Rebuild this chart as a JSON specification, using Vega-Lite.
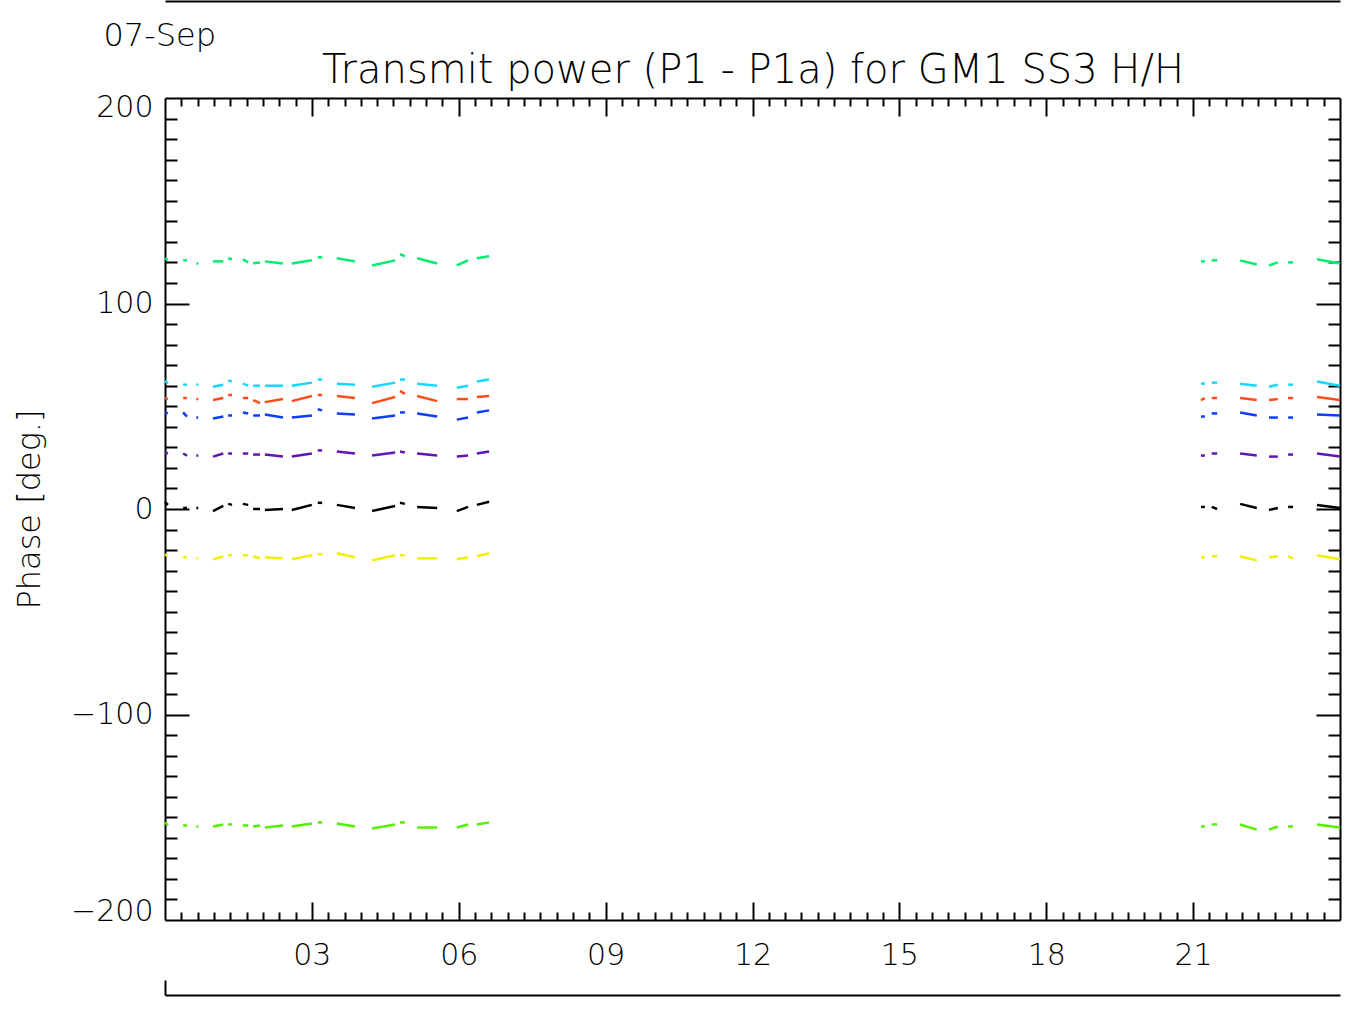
{
  "$schema": "https://vega.github.io/schema/vega-lite/v6.json",
  "width": 1175,
  "height": 822,
  "autosize": {"type": "none"},
  "padding": {"left": 165, "top": 98, "right": 11, "bottom": 92},
  "background": "white",
  "config": {
    "view": {"stroke": null},
    "axis": {
      "domainColor": "black", "domainWidth": 2, "tickColor": "black", "tickWidth": 2,
      "labelColor": "black", "labelFont": "DejaVu Sans", "labelFontSize": 30, "labelFontWeight": 200,
      "titleFont": "DejaVu Sans", "titleColor": "black", "titleFontWeight": 200, "grid": false
    }
  },
  "data": {"values": [
    {"s":"g","t1":0.0,"t2":0.06,"v1":122,"v2":121},{"s":"g","t1":0.37,"t2":0.45,"v1":121,"v2":121},{"s":"g","t1":0.64,"t2":0.68,"v1":119.5,"v2":119.5},{"s":"g","t1":0.98,"t2":1.19,"v1":120.5,"v2":120.5},{"s":"g","t1":1.29,"t2":1.37,"v1":122,"v2":121.5},{"s":"g","t1":1.59,"t2":1.7,"v1":121.5,"v2":120},{"s":"g","t1":1.8,"t2":1.94,"v1":119.5,"v2":120},{"s":"g","t1":2.04,"t2":2.41,"v1":120.5,"v2":119.5},{"s":"g","t1":2.59,"t2":3.0,"v1":119.5,"v2":121},{"s":"g","t1":3.12,"t2":3.21,"v1":122.5,"v2":122.5},{"s":"g","t1":3.51,"t2":3.88,"v1":122,"v2":120.5},{"s":"g","t1":4.23,"t2":4.7,"v1":118.5,"v2":121},{"s":"g","t1":4.8,"t2":4.9,"v1":124,"v2":123},{"s":"g","t1":5.15,"t2":5.56,"v1":122,"v2":119.5},{"s":"g","t1":5.96,"t2":6.19,"v1":118.5,"v2":121},{"s":"g","t1":6.37,"t2":6.62,"v1":122,"v2":123},{"s":"g","t1":21.16,"t2":21.24,"v1":120.5,"v2":120.5},{"s":"g","t1":21.38,"t2":21.49,"v1":121,"v2":121},{"s":"g","t1":21.96,"t2":22.3,"v1":121,"v2":119},{"s":"g","t1":22.55,"t2":22.73,"v1":118.5,"v2":120},{"s":"g","t1":22.94,"t2":23.04,"v1":120,"v2":120},{"s":"g","t1":23.53,"t2":24.0,"v1":121.5,"v2":119.5},
    {"s":"c","t1":0.0,"t2":0.06,"v1":62.5,"v2":61},{"s":"c","t1":0.37,"t2":0.45,"v1":60.5,"v2":60.5},{"s":"c","t1":0.64,"t2":0.68,"v1":60.5,"v2":60.5},{"s":"c","t1":0.98,"t2":1.19,"v1":59.5,"v2":60.5},{"s":"c","t1":1.29,"t2":1.37,"v1":62.5,"v2":62},{"s":"c","t1":1.59,"t2":1.7,"v1":61,"v2":60},{"s":"c","t1":1.8,"t2":1.94,"v1":60,"v2":60},{"s":"c","t1":2.04,"t2":2.41,"v1":60,"v2":60},{"s":"c","t1":2.59,"t2":3.0,"v1":60,"v2":61.5},{"s":"c","t1":3.12,"t2":3.21,"v1":63,"v2":63},{"s":"c","t1":3.51,"t2":3.88,"v1":61,"v2":60.5},{"s":"c","t1":4.23,"t2":4.7,"v1":59.5,"v2":61.5},{"s":"c","t1":4.8,"t2":4.9,"v1":63,"v2":63},{"s":"c","t1":5.15,"t2":5.56,"v1":61,"v2":60},{"s":"c","t1":5.96,"t2":6.19,"v1":59,"v2":60},{"s":"c","t1":6.37,"t2":6.62,"v1":62,"v2":63},{"s":"c","t1":21.16,"t2":21.24,"v1":61,"v2":61},{"s":"c","t1":21.38,"t2":21.49,"v1":61.5,"v2":61.5},{"s":"c","t1":21.96,"t2":22.3,"v1":61,"v2":60},{"s":"c","t1":22.55,"t2":22.73,"v1":59.5,"v2":60.5},{"s":"c","t1":22.94,"t2":23.04,"v1":60.5,"v2":60.5},{"s":"c","t1":23.53,"t2":24.0,"v1":62,"v2":60},
    {"s":"o","t1":0.0,"t2":0.06,"v1":54,"v2":53.5},{"s":"o","t1":0.37,"t2":0.45,"v1":54,"v2":54},{"s":"o","t1":0.64,"t2":0.68,"v1":53.5,"v2":53.5},{"s":"o","t1":0.98,"t2":1.19,"v1":53,"v2":54},{"s":"o","t1":1.29,"t2":1.37,"v1":55.5,"v2":55.5},{"s":"o","t1":1.59,"t2":1.7,"v1":54,"v2":54},{"s":"o","t1":1.8,"t2":1.94,"v1":53,"v2":51.5},{"s":"o","t1":2.04,"t2":2.41,"v1":52,"v2":53.5},{"s":"o","t1":2.59,"t2":3.0,"v1":52.5,"v2":55},{"s":"o","t1":3.12,"t2":3.21,"v1":55.5,"v2":55.5},{"s":"o","t1":3.51,"t2":3.88,"v1":55,"v2":54},{"s":"o","t1":4.23,"t2":4.7,"v1":51.5,"v2":54.5},{"s":"o","t1":4.8,"t2":4.9,"v1":57.5,"v2":56},{"s":"o","t1":5.15,"t2":5.56,"v1":55,"v2":52.5},{"s":"o","t1":5.96,"t2":6.19,"v1":53.5,"v2":53.5},{"s":"o","t1":6.37,"t2":6.62,"v1":54.5,"v2":55},{"s":"o","t1":21.16,"t2":21.24,"v1":53,"v2":54},{"s":"o","t1":21.38,"t2":21.49,"v1":54,"v2":54},{"s":"o","t1":21.96,"t2":22.3,"v1":54,"v2":53},{"s":"o","t1":22.55,"t2":22.73,"v1":53,"v2":53.5},{"s":"o","t1":22.94,"t2":23.04,"v1":54,"v2":54},{"s":"o","t1":23.53,"t2":24.0,"v1":54.5,"v2":53},
    {"s":"b","t1":0.0,"t2":0.06,"v1":47,"v2":46.5},{"s":"b","t1":0.37,"t2":0.45,"v1":47,"v2":45},{"s":"b","t1":0.64,"t2":0.68,"v1":44.5,"v2":44.5},{"s":"b","t1":0.98,"t2":1.19,"v1":44,"v2":45},{"s":"b","t1":1.29,"t2":1.37,"v1":45.5,"v2":45.5},{"s":"b","t1":1.59,"t2":1.7,"v1":47,"v2":46.5},{"s":"b","t1":1.8,"t2":1.94,"v1":45.5,"v2":45.5},{"s":"b","t1":2.04,"t2":2.41,"v1":46,"v2":44.5},{"s":"b","t1":2.59,"t2":3.0,"v1":44.5,"v2":45.5},{"s":"b","t1":3.12,"t2":3.21,"v1":48.5,"v2":48},{"s":"b","t1":3.51,"t2":3.88,"v1":46.5,"v2":46},{"s":"b","t1":4.23,"t2":4.7,"v1":44,"v2":45.5},{"s":"b","t1":4.8,"t2":4.9,"v1":47,"v2":47},{"s":"b","t1":5.15,"t2":5.56,"v1":46.5,"v2":45},{"s":"b","t1":5.96,"t2":6.19,"v1":43.5,"v2":44.5},{"s":"b","t1":6.37,"t2":6.62,"v1":47,"v2":48},{"s":"b","t1":21.16,"t2":21.24,"v1":45,"v2":45},{"s":"b","t1":21.38,"t2":21.49,"v1":46.5,"v2":46.5},{"s":"b","t1":21.96,"t2":22.3,"v1":47,"v2":45.5},{"s":"b","t1":22.55,"t2":22.73,"v1":44.5,"v2":44.5},{"s":"b","t1":22.94,"t2":23.04,"v1":44.5,"v2":44.5},{"s":"b","t1":23.53,"t2":24.0,"v1":46,"v2":45.5},
    {"s":"p","t1":0.0,"t2":0.06,"v1":27.5,"v2":27},{"s":"p","t1":0.37,"t2":0.45,"v1":27,"v2":26},{"s":"p","t1":0.64,"t2":0.68,"v1":26,"v2":26},{"s":"p","t1":0.98,"t2":1.19,"v1":25.5,"v2":27},{"s":"p","t1":1.29,"t2":1.37,"v1":27,"v2":27},{"s":"p","t1":1.59,"t2":1.7,"v1":27,"v2":27},{"s":"p","t1":1.8,"t2":1.94,"v1":26.5,"v2":26.5},{"s":"p","t1":2.04,"t2":2.41,"v1":26.5,"v2":25.5},{"s":"p","t1":2.59,"t2":3.0,"v1":25.5,"v2":27},{"s":"p","t1":3.12,"t2":3.21,"v1":28.5,"v2":28.5},{"s":"p","t1":3.51,"t2":3.88,"v1":28,"v2":27},{"s":"p","t1":4.23,"t2":4.7,"v1":26,"v2":27.5},{"s":"p","t1":4.8,"t2":4.9,"v1":28,"v2":27.5},{"s":"p","t1":5.15,"t2":5.56,"v1":27,"v2":26},{"s":"p","t1":5.96,"t2":6.19,"v1":25.5,"v2":26},{"s":"p","t1":6.37,"t2":6.62,"v1":27,"v2":28},{"s":"p","t1":21.16,"t2":21.24,"v1":26,"v2":26},{"s":"p","t1":21.38,"t2":21.49,"v1":27,"v2":27},{"s":"p","t1":21.96,"t2":22.3,"v1":27,"v2":26},{"s":"p","t1":22.55,"t2":22.73,"v1":25.5,"v2":25.5},{"s":"p","t1":22.94,"t2":23.04,"v1":26.5,"v2":26.5},{"s":"p","t1":23.53,"t2":24.0,"v1":27,"v2":25.5},
    {"s":"k","t1":0.0,"t2":0.06,"v1":3.5,"v2":2},{"s":"k","t1":0.37,"t2":0.45,"v1":0.5,"v2":0.5},{"s":"k","t1":0.64,"t2":0.68,"v1":0.5,"v2":0.5},{"s":"k","t1":0.98,"t2":1.19,"v1":-1,"v2":1.5},{"s":"k","t1":1.29,"t2":1.37,"v1":2.5,"v2":2},{"s":"k","t1":1.59,"t2":1.7,"v1":2.5,"v2":2},{"s":"k","t1":1.8,"t2":1.94,"v1":0,"v2":0},{"s":"k","t1":2.04,"t2":2.41,"v1":-0.5,"v2":0},{"s":"k","t1":2.59,"t2":3.0,"v1":-0.5,"v2":2},{"s":"k","t1":3.12,"t2":3.21,"v1":3,"v2":3},{"s":"k","t1":3.51,"t2":3.88,"v1":2,"v2":0.5},{"s":"k","t1":4.23,"t2":4.7,"v1":-1,"v2":1.5},{"s":"k","t1":4.8,"t2":4.9,"v1":3,"v2":2.5},{"s":"k","t1":5.15,"t2":5.56,"v1":1,"v2":0.5},{"s":"k","t1":5.96,"t2":6.19,"v1":-1,"v2":1},{"s":"k","t1":6.37,"t2":6.62,"v1":2,"v2":3.5},{"s":"k","t1":21.16,"t2":21.24,"v1":1,"v2":1},{"s":"k","t1":21.38,"t2":21.49,"v1":1,"v2":0},{"s":"k","t1":21.96,"t2":22.3,"v1":2.5,"v2":0.5},{"s":"k","t1":22.55,"t2":22.73,"v1":-0.5,"v2":0.5},{"s":"k","t1":22.94,"t2":23.04,"v1":1,"v2":1},{"s":"k","t1":23.53,"t2":24.0,"v1":2,"v2":0.5},
    {"s":"y","t1":0.0,"t2":0.06,"v1":-22,"v2":-23},{"s":"y","t1":0.37,"t2":0.45,"v1":-23.5,"v2":-23.5},{"s":"y","t1":0.64,"t2":0.68,"v1":-24,"v2":-24},{"s":"y","t1":0.98,"t2":1.19,"v1":-24.5,"v2":-23},{"s":"y","t1":1.29,"t2":1.37,"v1":-22.5,"v2":-22.5},{"s":"y","t1":1.59,"t2":1.7,"v1":-22.5,"v2":-22.5},{"s":"y","t1":1.8,"t2":1.94,"v1":-23,"v2":-24},{"s":"y","t1":2.04,"t2":2.41,"v1":-23.5,"v2":-24},{"s":"y","t1":2.59,"t2":3.0,"v1":-24.5,"v2":-22.5},{"s":"y","t1":3.12,"t2":3.21,"v1":-22,"v2":-22},{"s":"y","t1":3.51,"t2":3.88,"v1":-21.5,"v2":-23.5},{"s":"y","t1":4.23,"t2":4.7,"v1":-25,"v2":-22.5},{"s":"y","t1":4.8,"t2":4.9,"v1":-22.5,"v2":-22.5},{"s":"y","t1":5.15,"t2":5.56,"v1":-24,"v2":-24},{"s":"y","t1":5.96,"t2":6.19,"v1":-24.5,"v2":-23.5},{"s":"y","t1":6.37,"t2":6.62,"v1":-23,"v2":-21.5},{"s":"y","t1":21.16,"t2":21.24,"v1":-23.5,"v2":-23.5},{"s":"y","t1":21.38,"t2":21.49,"v1":-23,"v2":-23},{"s":"y","t1":21.96,"t2":22.3,"v1":-23,"v2":-25},{"s":"y","t1":22.55,"t2":22.73,"v1":-23.5,"v2":-23},{"s":"y","t1":22.94,"t2":23.04,"v1":-23,"v2":-24},{"s":"y","t1":23.53,"t2":24.0,"v1":-22.5,"v2":-24.5},
    {"s":"l","t1":0.0,"t2":0.06,"v1":-152.5,"v2":-154},{"s":"l","t1":0.37,"t2":0.45,"v1":-154,"v2":-154},{"s":"l","t1":0.64,"t2":0.68,"v1":-154.5,"v2":-154.5},{"s":"l","t1":0.98,"t2":1.19,"v1":-154.5,"v2":-153.5},{"s":"l","t1":1.29,"t2":1.37,"v1":-153.5,"v2":-153.5},{"s":"l","t1":1.59,"t2":1.7,"v1":-154,"v2":-154},{"s":"l","t1":1.8,"t2":1.94,"v1":-154.5,"v2":-154},{"s":"l","t1":2.04,"t2":2.41,"v1":-155,"v2":-154},{"s":"l","t1":2.59,"t2":3.0,"v1":-154.5,"v2":-153},{"s":"l","t1":3.12,"t2":3.21,"v1":-152.5,"v2":-152.5},{"s":"l","t1":3.51,"t2":3.88,"v1":-153,"v2":-154.5},{"s":"l","t1":4.23,"t2":4.7,"v1":-155.5,"v2":-153.5},{"s":"l","t1":4.8,"t2":4.9,"v1":-152.5,"v2":-152.5},{"s":"l","t1":5.15,"t2":5.56,"v1":-155,"v2":-155},{"s":"l","t1":5.96,"t2":6.19,"v1":-155,"v2":-153.5},{"s":"l","t1":6.37,"t2":6.62,"v1":-153.5,"v2":-152.5},{"s":"l","t1":21.16,"t2":21.24,"v1":-154.5,"v2":-154.5},{"s":"l","t1":21.38,"t2":21.49,"v1":-153.5,"v2":-153.5},{"s":"l","t1":21.96,"t2":22.3,"v1":-153.5,"v2":-156},{"s":"l","t1":22.55,"t2":22.73,"v1":-156,"v2":-154.5},{"s":"l","t1":22.94,"t2":23.04,"v1":-154.5,"v2":-154.5},{"s":"l","t1":23.53,"t2":24.0,"v1":-153.5,"v2":-155}
  ]},
  "resolve": {"axis": {"x": "independent", "y": "independent"}},
  "layer": [
    {
      "mark": {"type": "rule", "strokeWidth": 2.5},
      "encoding": {
        "x": {"field": "t1", "type": "quantitative", "scale": {"domain": [0, 24], "nice": false, "zero": false},
              "axis": {"orient": "bottom", "values": [3, 6, 9, 12, 15, 18, 21], "format": "02d", "ticks": false, "domain": false, "labelPadding": 20, "title": null}},
        "x2": {"field": "t2"},
        "y": {"field": "v1", "type": "quantitative", "scale": {"domain": [-200, 200], "nice": false, "zero": false},
              "axis": {"orient": "left", "values": [-200, -100, 0, 100, 200], "ticks": false, "domain": false, "labelPadding": 12, "labelFlush": true, "labelFlushOffset": 6, "title": "Phase [deg.]", "titleFontSize": 32, "titlePadding": 24}},
        "y2": {"field": "v2"},
        "color": {"field": "s", "type": "nominal", "legend": null,
                  "scale": {"domain": ["g", "c", "o", "b", "p", "k", "y", "l"], "range": ["#00ee6e", "#16d8ff", "#ff4c1a", "#0f3cff", "#6414b4", "#000000", "#f0f000", "#55f000"]}}
      }
    },
    {
      "mark": {"type": "point", "opacity": 0},
      "encoding": {
        "x": {"field": "t1", "type": "quantitative", "scale": {"domain": [0, 24], "nice": false, "zero": false},
              "axis": {"orient": "bottom", "values": [3, 6, 9, 12, 15, 18, 21], "labels": false, "tickSize": -18, "domain": true, "title": null}},
        "y": {"field": "v1", "type": "quantitative", "scale": {"domain": [-200, 200], "nice": false, "zero": false},
              "axis": {"orient": "left", "values": [-100, 0, 100], "labels": false, "tickSize": -24, "domain": true, "title": null}}
      }
    },
    {
      "mark": {"type": "point", "opacity": 0},
      "encoding": {
        "x": {"field": "t1", "type": "quantitative", "scale": {"domain": [0, 24], "nice": false, "zero": false},
              "axis": {"orient": "bottom", "values": [0.333,0.667,1,1.333,1.667,2,2.333,2.667,3.333,3.667,4,4.333,4.667,5,5.333,5.667,6.333,6.667,7,7.333,7.667,8,8.333,8.667,9.333,9.667,10,10.333,10.667,11,11.333,11.667,12.333,12.667,13,13.333,13.667,14,14.333,14.667,15.333,15.667,16,16.333,16.667,17,17.333,17.667,18.333,18.667,19,19.333,19.667,20,20.333,20.667,21.333,21.667,22,22.333,22.667,23,23.333,23.667], "labels": false, "tickSize": -8, "domain": false, "title": null}},
        "y": {"field": "v1", "type": "quantitative", "scale": {"domain": [-200, 200], "nice": false, "zero": false},
              "axis": {"orient": "left", "values": [-190,-180,-170,-160,-150,-140,-130,-120,-110,-90,-80,-70,-60,-50,-40,-30,-20,-10,10,20,30,40,50,60,70,80,90,110,120,130,140,150,160,170,180,190], "labels": false, "tickSize": -12, "domain": false, "title": null}}
      }
    },
    {
      "mark": {"type": "point", "opacity": 0},
      "encoding": {
        "x": {"field": "t1", "type": "quantitative", "scale": {"domain": [0, 24], "nice": false, "zero": false},
              "axis": {"orient": "top", "values": [3, 6, 9, 12, 15, 18, 21], "labels": false, "tickSize": -18, "domain": true,
                       "title": "Transmit power (P1 - P1a) for GM1 SS3 H/H", "titleFontSize": 40, "titlePadding": 7}},
        "y": {"field": "v1", "type": "quantitative", "scale": {"domain": [-200, 200], "nice": false, "zero": false},
              "axis": {"orient": "right", "values": [-100, 0, 100], "labels": false, "tickSize": -24, "domain": true, "title": null}}
      }
    },
    {
      "mark": {"type": "point", "opacity": 0},
      "encoding": {
        "x": {"field": "t1", "type": "quantitative", "scale": {"domain": [0, 24], "nice": false, "zero": false},
              "axis": {"orient": "top", "values": [0.333,0.667,1,1.333,1.667,2,2.333,2.667,3.333,3.667,4,4.333,4.667,5,5.333,5.667,6.333,6.667,7,7.333,7.667,8,8.333,8.667,9.333,9.667,10,10.333,10.667,11,11.333,11.667,12.333,12.667,13,13.333,13.667,14,14.333,14.667,15.333,15.667,16,16.333,16.667,17,17.333,17.667,18.333,18.667,19,19.333,19.667,20,20.333,20.667,21.333,21.667,22,22.333,22.667,23,23.333,23.667], "labels": false, "tickSize": -8, "domain": false, "title": null}},
        "y": {"field": "v1", "type": "quantitative", "scale": {"domain": [-200, 200], "nice": false, "zero": false},
              "axis": {"orient": "right", "values": [-190,-180,-170,-160,-150,-140,-130,-120,-110,-90,-80,-70,-60,-50,-40,-30,-20,-10,10,20,30,40,50,60,70,80,90,110,120,130,140,150,160,170,180,190], "labels": false, "tickSize": -12, "domain": false, "title": null}}
      }
    },
    {
      "mark": {"type": "point", "opacity": 0},
      "encoding": {
        "x": {"field": "t1", "type": "quantitative", "scale": {"domain": [0, 24], "nice": false, "zero": false},
              "axis": {"orient": "top", "offset": 97, "ticks": false, "labels": false, "domain": true,
                       "title": "07-Sep", "titleFontSize": 32, "titleAlign": "left", "titleAnchor": "start", "titleBaseline": "alphabetic", "titleX": -62, "titleY": 44, "titleAngle": 0}},
        "y": {"field": "v1", "type": "quantitative", "scale": {"domain": [-200, 200], "nice": false, "zero": false}, "axis": null}
      }
    },
    {
      "mark": {"type": "point", "opacity": 0},
      "encoding": {
        "x": {"field": "t1", "type": "quantitative", "scale": {"domain": [0, 24], "nice": false, "zero": false},
              "axis": {"orient": "bottom", "offset": 75, "values": [0], "tickSize": -15, "labels": false, "domain": true, "title": null}},
        "y": {"field": "v1", "type": "quantitative", "scale": {"domain": [-200, 200], "nice": false, "zero": false}, "axis": null}
      }
    }
  ]
}
